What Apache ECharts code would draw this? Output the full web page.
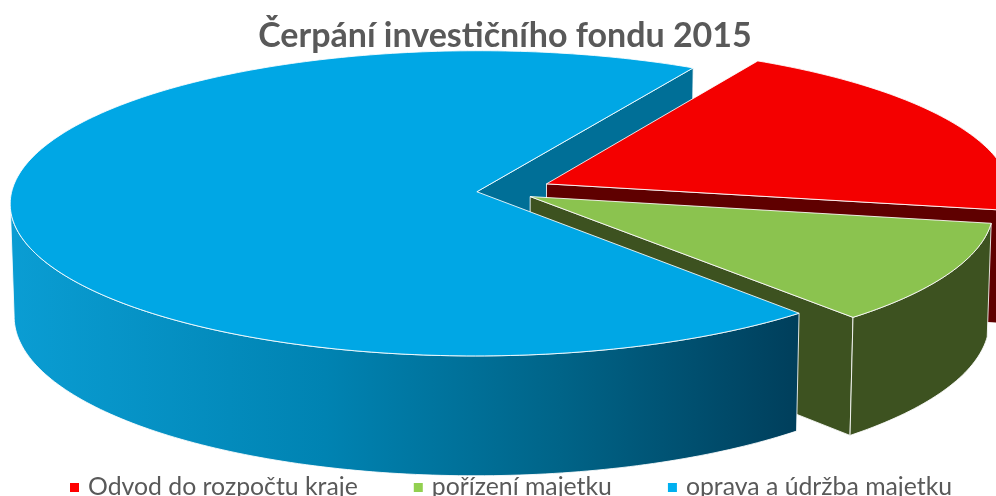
<!DOCTYPE html>
<html><head><meta charset="utf-8">
<style>html,body{margin:0;padding:0;background:#fff}#c{width:996px;height:496px}</style>
<script src="https://cdn.jsdelivr.net/npm/echarts@6/dist/echarts.min.js"></script>
</head><body><div id="c"></div>
<script>
const categories = ['Odvod do rozpočtu kraje', 'pořízení majetku', 'oprava a údržba majetku'];
const values = [19.6, 10.82, 69.58];
const titleText = 'Čerpání investičního fondu 2015';

// drawing parameters
const explode = [0.111, 0.0744, 0.05];
const radiusScale = [1, 0.99, 1];
const startAngle = 60.5;
const FONT = 'Lato';
const P = {cx: 500, cy: 191, a: 465, b: 151.6, h: 113, d: 13.2, zk: 0.008};
const topColors = ['#F40000', '#8BC34F', '#00A7E5'];
const legendColors = ['#FF0000', '#92D050', '#00B0F0'];
const cutColors = ['#5F0000', '#3D5220', '#006F97'];
const wallColors = [
  '#5F0000', '#3D5220',
  {type: 'linear', x: 12, y: 0, x2: 795, y2: 0, global: true, colorStops: [
    {offset: 0, color: '#0A9DD3'}, {offset: 0.4, color: '#0083B2'},
    {offset: 0.7, color: '#006488'}, {offset: 1, color: '#003F5C'}]}
];
// paint order, back to front
const layerZ = [{cut: 3, wall: 2, top: 4}, {cut: 5, wall: 6, top: 7}, {cut: 1, wall: 8, top: 9}];
const EDGE = 'rgba(255,255,255,0.85)';

const total = values.reduce((s, v) => s + v, 0);
const rad = d => d * Math.PI / 180;
function project(X, Y, Z) {
  const s = 1 / (1 - Y / P.d + Z * P.zk);
  return [P.cx + P.a * X * s, P.cy + (P.b * Y + P.h * Z) * s];
}
function sliceGeom(i) {
  let a1 = startAngle;
  for (let k = 0; k < i; k++) a1 -= values[k] / total * 360;
  const a2 = a1 - values[i] / total * 360;
  const mid = rad((a1 + a2) / 2);
  const ox = explode[i] * Math.cos(mid), oy = -explode[i] * Math.sin(mid);
  const r = radiusScale[i];
  const rim = (deg, z) => project(ox + r * Math.cos(rad(deg)), oy - r * Math.sin(rad(deg)), z);
  return {a1, a2, ox, oy, rim, apex: z => project(ox, oy, z)};
}
function poly(points, fill, z2) {
  return {type: 'polygon', z2, shape: {points},
    style: {fill, stroke: EDGE, lineWidth: 1, lineJoin: 'round'}};
}
function renderSlice(i) {
  const g = sliceGeom(i), z = layerZ[i], kids = [];
  const arc = (from, to, zz) => {
    const n = Math.max(2, Math.ceil(Math.abs(to - from))), pts = [];
    for (let k = 0; k <= n; k++) pts.push(g.rim(from + (to - from) * k / n, zz));
    return pts;
  };
  // cut faces turned towards the viewer
  if (Math.cos(rad(g.a1)) < 0)
    kids.push(poly([g.apex(0), g.rim(g.a1, 0), g.rim(g.a1, 1), g.apex(1)], cutColors[i], z.cut));
  if (Math.cos(rad(g.a2)) > 0)
    kids.push(poly([g.apex(0), g.rim(g.a2, 0), g.rim(g.a2, 1), g.apex(1)], cutColors[i], z.cut));
  // outer wall: only the part of the rim that faces the viewer
  const lo = Math.max(g.a2, -175.7), hi = Math.min(g.a1, 0);
  if (hi > lo) {
    const top = arc(hi, lo, 0), bot = arc(lo, hi, 1);
    kids.push(poly(top.concat(bot), wallColors[i], z.wall));
  }
  kids.push(poly([g.apex(0)].concat(arc(g.a1, g.a2, 0)), topColors[i], z.top));
  return {type: 'group', children: kids};
}
const series = categories.map((name, i) => ({
  type: 'custom', name, coordinateSystem: 'none',
  data: [values[i]], silent: true, animation: false,
  itemStyle: {color: legendColors[i]},
  renderItem: () => renderSlice(i)
}));
const chart = echarts.init(document.getElementById('c'), null, {renderer: 'canvas'});
chart.setOption({
  animation: false,
  backgroundColor: '#fff',
  title: {text: titleText, left: 500, top: 14, textAlign: 'center', z: 20,
    textStyle: {fontFamily: FONT, fontWeight: 'bold', fontSize: 34, color: '#595959'}},
  legend: {left: 70, top: 475, orient: 'horizontal', icon: 'rect', itemWidth: 9, itemHeight: 9,
    itemGap: 56, padding: 0, z: 20, selectedMode: false,
    data: categories.map((name, i) => ({name, itemStyle: {color: legendColors[i]}})),
    textStyle: {fontFamily: FONT, fontSize: 24.8, color: '#595959', padding: [0, 0, 0, 4]}},
  series
});
</script></body></html>
